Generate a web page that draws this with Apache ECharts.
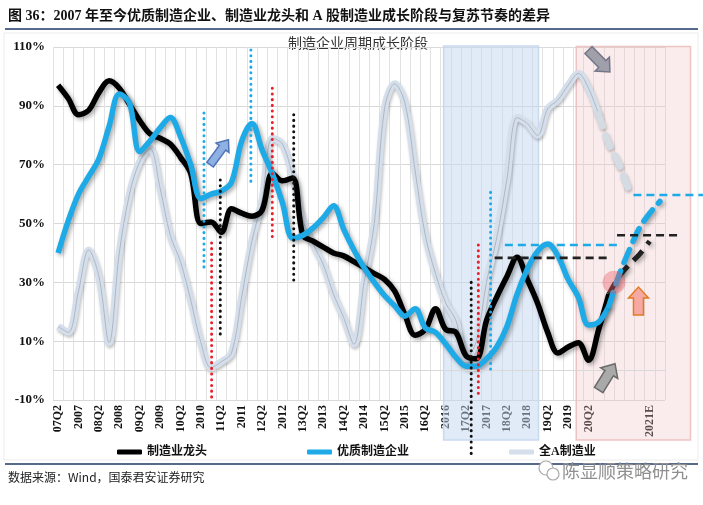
<!DOCTYPE html>
<html><head><meta charset="utf-8">
<script src="https://cdn.jsdelivr.net/npm/echarts@6/dist/echarts.min.js"></script>
<style>html,body{margin:0;padding:0;background:#fff}#c{width:703px;height:505px}</style>
</head><body><div id="c"></div>
<script>
// ---- data ----
const categories = ["07Q2","07Q3","2007","08Q1","08Q2","08Q3","2008","09Q1","09Q2","09Q3","2009","10Q1","10Q2","10Q3","2010","11Q1","11Q2","11Q3","2011","12Q1","12Q2","12Q3","2012","13Q1","13Q2","13Q3","2013","14Q1","14Q2","14Q3","2014","15Q1","15Q2","15Q3","2015","16Q1","16Q2","16Q3","2016","17Q1","17Q2","17Q3","2017","18Q1","18Q2","18Q3","2018","19Q1","19Q2","19Q3","2019","20Q1","20Q2","20Q3","2020","21Q1","21Q2","21Q3","2021E","22Q1"];
const hiddenLabels = ["2020","21Q2"];
const yTicks = [-10, 110, 20];

const blackVals = [97,92.5,87,88.5,94.5,98.5,96,90.5,85,80.5,79,77,72.5,67,50,50.5,47,55,53.5,52.5,54.5,67,64.5,65.5,46,44,42,40,39,37,35,33,31,27,19,12,14,21,14,13,5,4,17,25,32,38.5,31,23,13,6,8,9.5,3.5,14,26];
const blackProjStart = 54;
const blackProj = [26,32,36,39.5,44];

const blueVals = [40,51,60,66,72,83,94,91,74.5,78,82.5,86,79.5,70,58.5,60,61,64,78,84,75,67,57,45,46,48.5,52,56,48,41,35,30,25.5,22,18.5,21,14.5,13,9,4.5,1.5,1.5,4,8,15,26,34.5,40.5,43,39,31,25,15.5,16.5,22];
const blueProjStart = 54;
const blueProj = [22,32.5,41,48.5,53.5,57.5];

const grayVals = [15,13,27,41,32,9.5,40,60,71,75.5,62,46,37,24,9.5,1,3,6,25,44,58,79,77,66,51,43,36,26,18,9,30,50,89,97.5,91,68,46,33,23,17,4,10,30,45,65,86,84,80,89,92,97,101,96,87];
const grayProjStart = 53;
const grayProj = [87,77,70,61];

// vertical dotted markers: [position, top, bottom]
const vDots = [[14.3,87.6,34.9],[15.05,43.4,-9.3],[15.9,64.8,12.1],[18.9,109,63],[21.0,96,44.4],[23.1,87,30],[40.5,30,-29],[41.2,42.7,-8],[42.4,60.6,0]];
// horizontal dashed markers: [from, to, level]
const hDash = [[42.8,53.8,38.3],[43.8,54.8,42.7],[54.8,61,46],[56.4,63.5,59.7]];
// shaded phases: [from, to, top, bottom]
const phases = [[37.8,47.1,110.3,-23.6],[50.8,62.0,110.2,-23.6]];
// arrows: [x0,y0,x1,y1]
const arrows = [[14.9,70,16.7,78.5],[52.0,109,54.1,101.5],[56.9,18.9,56.9,28.4],[53.0,-6.6,54.6,2.3]];
const turnPoint = [[54.5,30]];

// ---- styles ----
const vDotColors = ['#1eaae6','#e8202a','#111','#1eaae6','#e8202a','#111','#111','#e8202a','#1eaae6'];
const hDashColors = ['#222','#1eaae6','#222','#1eaae6'];
const phaseFill = ['rgba(196,216,240,0.5)','rgba(240,198,198,0.33)'];
const phaseStroke = ['rgba(196,214,238,0.9)','rgba(236,190,190,0.9)'];
const arrowFill = ['#8fb0e3','#a0a0ab','#f6a9a2','#a9a9a9'];
const arrowStroke = ['#4f74b8','#76768a','#e07b22','#6b6b6b'];
const arrowSize = [[4,8,10],[5,10,11],[5,10,11],[5,10,11]];
const serif = "'Liberation Serif','Noto Sans CJK SC'";
const cjk = "'Noto Sans CJK SC'";

const chart = echarts.init(document.getElementById('c'));
const pairs = (start, arr) => arr.map((v, k) => [start + k, v]);
const shadow = {shadowColor:'rgba(0,0,0,0.35)', shadowBlur:4, shadowOffsetX:2, shadowOffsetY:2};

const option = {
  animation: false,
  backgroundColor: '#fff',
  grid: {left: 53, right: 38, top: 47, bottom: 105, outerBoundsMode: 'none', containLabel: false},
  legend: {
    data: ['制造业龙头','优质制造企业','全A制造业'],
    left: 112, top: 441, icon: 'roundRect', itemWidth: 25, itemHeight: 5, itemGap: 100,
    textStyle: {fontFamily: serif, fontWeight: 'bold', fontSize: 12, color: '#111'}
  },
  xAxis: [{
    type: 'category', data: categories, boundaryGap: true,
    axisLine: {show: false}, axisTick: {show: false},
    splitLine: {show: true, interval: 0, lineStyle: {color: '#e2e2e2', width: 1}},
    axisLabel: {
      rotate: 90, margin: 5, fontFamily: serif, fontWeight: 'bold', fontSize: 12, color: '#111',
      interval: (idx) => idx % 2 === 0 && hiddenLabels.indexOf(categories[idx]) < 0
    }
  }, {
    type: 'value', min: -0.5, max: categories.length - 0.5, show: false
  }],
  yAxis: {
    type: 'value', min: yTicks[0], max: yTicks[1], interval: yTicks[2],
    axisLine: {show: false}, axisTick: {show: false},
    splitLine: {lineStyle: {color: '#d9d9d9'}},
    axisLabel: {formatter: '{value}%', margin: 8, fontFamily: serif, fontWeight: 'bold', fontSize: 13, color: '#111'}
  },
  series: [
    {
      type: 'custom', name: 'phases', xAxisIndex: 1, z: 1, clip: false, silent: true,
      data: phases,
      renderItem: (params, api) => {
        const a = api.coord([api.value(0), api.value(2)]);
        const b = api.coord([api.value(1), api.value(3)]);
        return {type: 'rect', shape: {x: a[0], y: a[1], width: b[0]-a[0], height: b[1]-a[1]},
          style: {fill: phaseFill[params.dataIndex], stroke: phaseStroke[params.dataIndex], lineWidth: 1.5}};
      },
      markLine: {silent: true, symbol: 'none', label: {show: false},
        lineStyle: {color: '#d9d9d9', type: 'solid', width: 1}, data: [{yAxis: 0}]}
    },
    {
      type: 'line', name: '全A制造业', data: grayVals, smooth: 0.35, symbol: 'none', z: 3,
      itemStyle: {color: '#d5dfeb'},
      lineStyle: Object.assign({color: '#d5dfeb', width: 7}, {shadowColor:'rgba(0,0,0,0.25)', shadowBlur:3, shadowOffsetX:1, shadowOffsetY:2})
    },
    {
      type: 'line', name: 'grayInner', data: grayVals, smooth: 0.35, symbol: 'none', z: 3, silent: true,
      lineStyle: {color: '#a9b2bc', width: 0.9}
    },
    {
      type: 'line', name: 'grayProj', data: pairs(grayProjStart, grayProj), smooth: 0.3, symbol: 'none', z: 3,
      lineStyle: Object.assign({color: '#d5dbe3', width: 7, type: [12, 10], cap: 'round'}, {shadowColor:'rgba(0,0,0,0.25)', shadowBlur:3, shadowOffsetX:1, shadowOffsetY:2})
    },
    {
      type: 'line', name: '制造业龙头', data: blackVals, smooth: 0.35, symbol: 'none', z: 4,
      itemStyle: {color: '#000'},
      lineStyle: Object.assign({color: '#000', width: 5.5}, shadow)
    },
    {
      type: 'line', name: 'blackProj', data: pairs(blackProjStart, blackProj), smooth: 0.3, symbol: 'none', z: 4,
      lineStyle: Object.assign({color: '#222', width: 5, type: [13, 8]}, shadow)
    },
    {
      type: 'line', name: '优质制造企业', data: blueVals, smooth: 0.35, symbol: 'none', z: 4,
      itemStyle: {color: '#1eaae6'},
      lineStyle: Object.assign({color: '#1eaae6', width: 5.5}, shadow)
    },
    {
      type: 'line', name: 'blueProj', data: pairs(blueProjStart, blueProj), smooth: 0.3, symbol: 'none', z: 4,
      lineStyle: Object.assign({color: '#1eaae6', width: 5.5, type: [14, 9], cap: 'round'}, shadow)
    },
    {
      type: 'custom', name: 'vDots', xAxisIndex: 1, z: 5, clip: false, silent: true,
      data: vDots,
      renderItem: (params, api) => {
        const p0 = api.coord([api.value(0), api.value(1)]);
        const p1 = api.coord([api.value(0), api.value(2)]);
        return {type: 'line', shape: {x1: p0[0], y1: p0[1], x2: p1[0], y2: p1[1]},
          style: {stroke: vDotColors[params.dataIndex], lineWidth: 3, lineDash: [0.1, 5.6], lineCap: 'round'}};
      }
    },
    {
      type: 'custom', name: 'hDash', xAxisIndex: 1, z: 5, clip: false, silent: true,
      data: hDash,
      renderItem: (params, api) => {
        const p0 = api.coord([api.value(0), api.value(2)]);
        const p1 = api.coord([api.value(1), api.value(2)]);
        return {type: 'line', shape: {x1: p0[0], y1: p0[1], x2: p1[0], y2: p1[1]},
          style: {stroke: hDashColors[params.dataIndex], lineWidth: 2.6, lineDash: [8, 5]}};
      }
    },
    {
      type: 'scatter', name: 'turn', xAxisIndex: 1, z: 6, silent: true,
      data: turnPoint, symbolSize: 23, itemStyle: {color: 'rgba(232,80,92,0.45)'}
    },
    {
      type: 'custom', name: 'arrows', xAxisIndex: 1, z: 6, clip: false, silent: true,
      data: arrows,
      renderItem: (params, api) => {
        const p0 = api.coord([api.value(0), api.value(1)]);
        const p1 = api.coord([api.value(2), api.value(3)]);
        const s = arrowSize[params.dataIndex];
        const dx = p1[0]-p0[0], dy = p1[1]-p0[1];
        const L = Math.sqrt(dx*dx+dy*dy);
        const ux = dx/L, uy = dy/L, nx = -uy, ny = ux;
        const bx = p0[0] + ux*(L - s[2]), by = p0[1] + uy*(L - s[2]);
        const pts = [
          [p0[0]+nx*s[0], p0[1]+ny*s[0]],
          [bx+nx*s[0], by+ny*s[0]],
          [bx+nx*s[1], by+ny*s[1]],
          [p1[0], p1[1]],
          [bx-nx*s[1], by-ny*s[1]],
          [bx-nx*s[0], by-ny*s[0]],
          [p0[0]-nx*s[0], p0[1]-ny*s[0]]
        ];
        return {type: 'polygon', shape: {points: pts},
          style: {fill: arrowFill[params.dataIndex], stroke: arrowStroke[params.dataIndex], lineWidth: 1.5}};
      }
    }
  ],
  graphic: [
    {type: 'rect', shape: {x: 4, y: 33, width: 694, height: 427}, style: {fill: 'none', stroke: '#ececec', lineWidth: 1}, z: -1},
    {type: 'line', shape: {x1: 5, y1: 29, x2: 698, y2: 29}, style: {stroke: '#1f3864', lineWidth: 1.5}},
    {type: 'line', shape: {x1: 5, y1: 464, x2: 698, y2: 464}, style: {stroke: '#1f3864', lineWidth: 1.5}},
    {type: 'text', x: 8, y: 16, style: {text: '图 36：2007 年至今优质制造企业、制造业龙头和 A 股制造业成长阶段与复苏节奏的差异',
      font: "bold 14px " + serif, fill: '#111', verticalAlign: 'middle'}},
    {type: 'text', x: 358, y: 43, style: {text: '制造企业周期成长阶段', font: "14px " + cjk, fill: '#333', align: 'center', verticalAlign: 'middle'}},
    {type: 'text', x: 8, y: 477, style: {text: '数据来源：Wind，国泰君安证券研究', font: "12px " + cjk, fill: '#222', verticalAlign: 'middle'}},
    {type: 'circle', shape: {cx: 546, cy: 468, r: 7}, style: {fill: '#fff', stroke: '#aaa', lineWidth: 1.2}},
    {type: 'circle', shape: {cx: 553, cy: 474, r: 6}, style: {fill: '#fff', stroke: '#aaa', lineWidth: 1.2}},
    {type: 'text', x: 562, y: 471, style: {text: '陈显顺策略研究', font: "18px " + cjk, fill: '#8f8f8f', verticalAlign: 'middle'}}
  ]
};
chart.setOption(option);
</script>
</body></html>
